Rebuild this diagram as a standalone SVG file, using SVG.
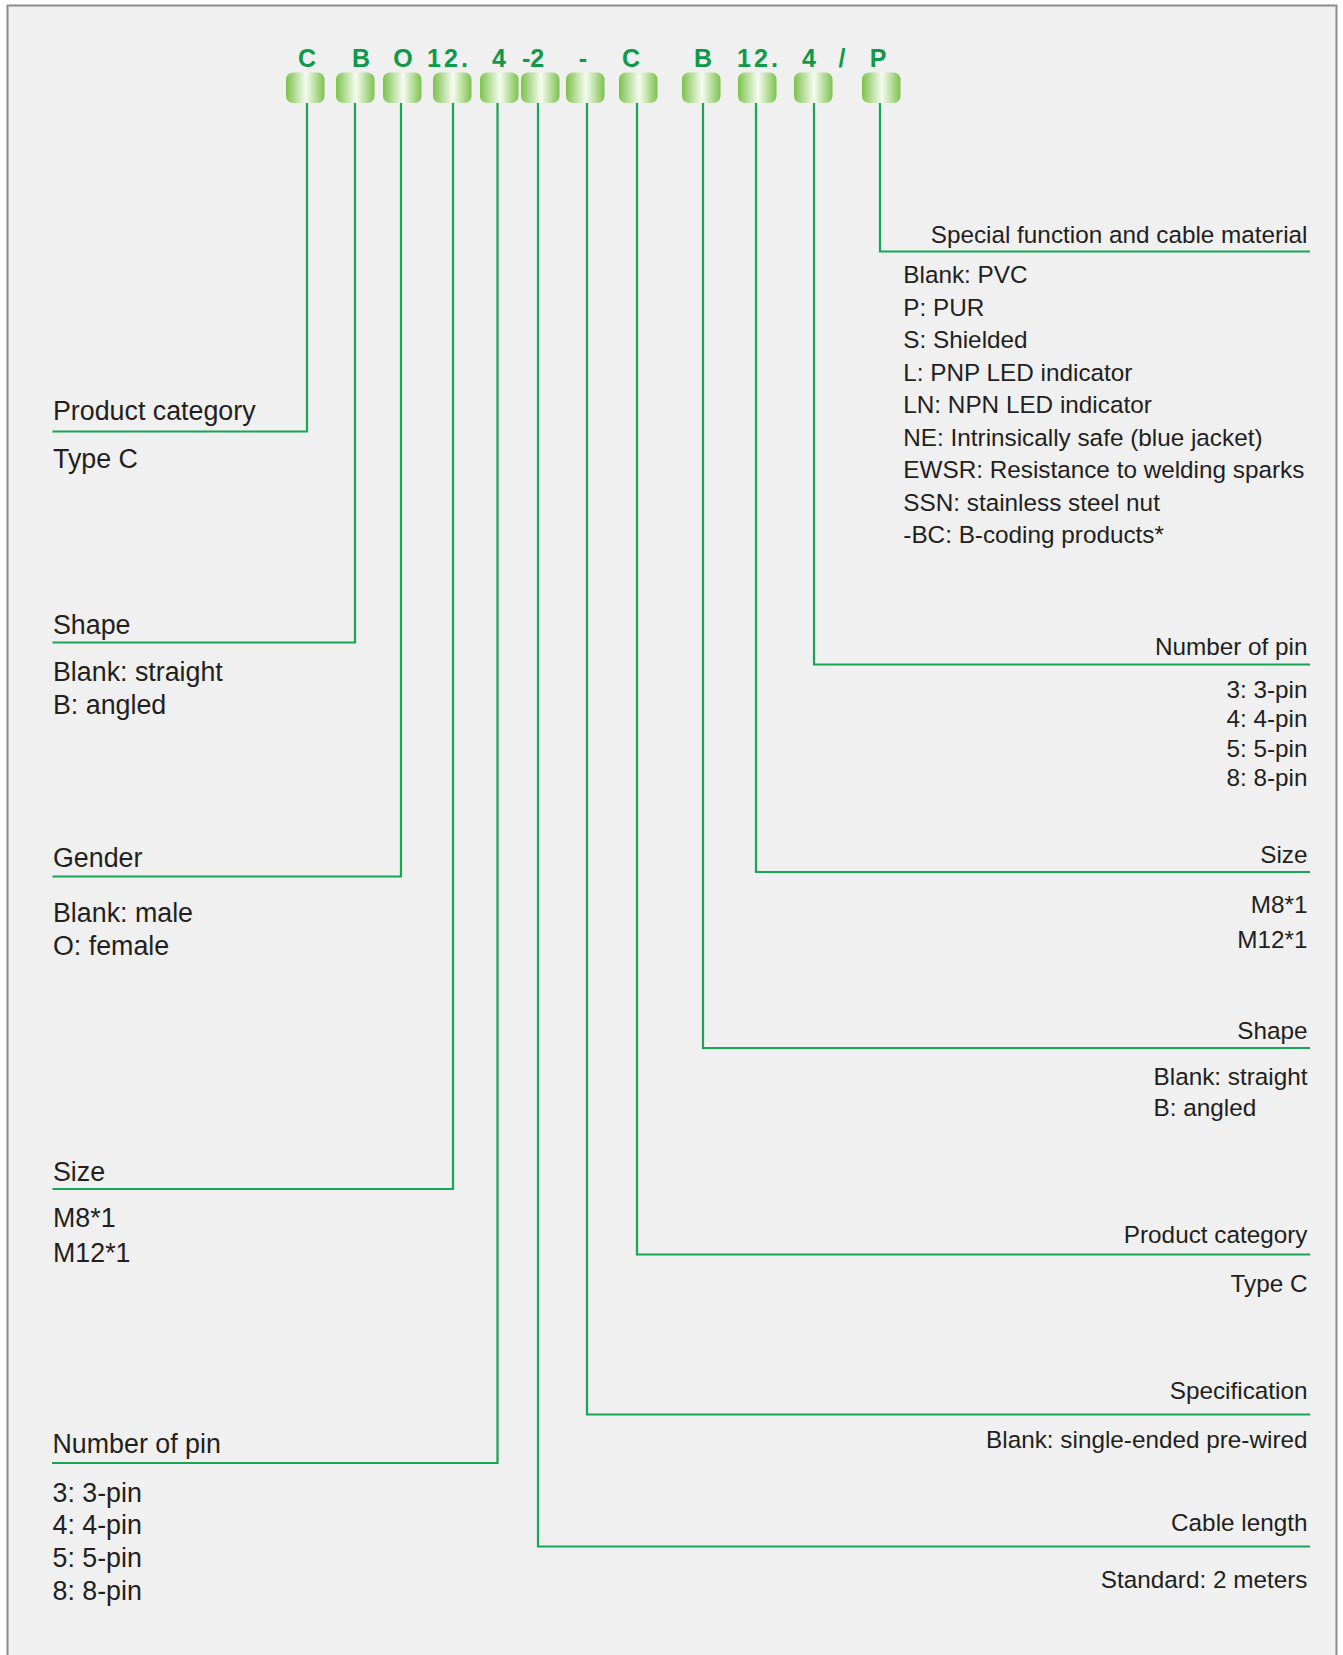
<svg xmlns="http://www.w3.org/2000/svg" width="1343" height="1655" viewBox="0 0 1343 1655">
<style>
.code{font-family:"Liberation Sans",Arial,sans-serif;font-weight:bold;font-size:25px;fill:#0e9a4a;text-anchor:middle}
.pill{fill:url(#pg)}
.lh{font-family:"Liberation Sans",Arial,sans-serif;font-size:26.8px;fill:#231f20}
.rh{font-family:"Liberation Sans",Arial,sans-serif;font-size:24.3px;fill:#231f20}
.r{text-anchor:end}
.conn{fill:none;stroke:#17a556;stroke-width:2.2}
</style>
<defs>
<linearGradient id="pg" x1="0" y1="0" x2="1" y2="0">
<stop offset="0" stop-color="#7cc24c"/>
<stop offset="0.52" stop-color="#f6fbf2"/>
<stop offset="1" stop-color="#7cc24c"/>
</linearGradient>
</defs>
<rect x="7.5" y="5.5" width="1329" height="1660" fill="#f0f0f0" stroke="#8c8c8c" stroke-width="2"/>

<g id="code-C1"><text class="code" x="307" y="66.5">C</text><rect class="pill" x="286" y="72.5" width="38.5" height="30.5" rx="7"/></g>
<g id="code-B1"><text class="code" x="361" y="66.5">B</text><rect class="pill" x="336" y="72.5" width="38.5" height="30.5" rx="7"/></g>
<g id="code-O"><text class="code" x="403" y="66.5">O</text><rect class="pill" x="383" y="72.5" width="38.5" height="30.5" rx="7"/></g>
<g id="code-12a"><text class="code" x="449" y="66.5" letter-spacing="3">12.</text><rect class="pill" x="433" y="72.5" width="38.5" height="30.5" rx="7"/></g>
<g id="code-4a"><text class="code" x="499" y="66.5">4</text><rect class="pill" x="480" y="72.5" width="38.5" height="30.5" rx="7"/></g>
<g id="code-2"><text class="code" x="533" y="66.5">-2</text><rect class="pill" x="521" y="72.5" width="38.5" height="30.5" rx="7"/></g>
<g id="code-dash"><text class="code" x="583" y="66.5">-</text><rect class="pill" x="566" y="72.5" width="38.5" height="30.5" rx="7"/></g>
<g id="code-C2"><text class="code" x="631" y="66.5">C</text><rect class="pill" x="619" y="72.5" width="38.5" height="30.5" rx="7"/></g>
<g id="code-B2"><text class="code" x="703" y="66.5">B</text><rect class="pill" x="682" y="72.5" width="38.5" height="30.5" rx="7"/></g>
<g id="code-12b"><text class="code" x="759" y="66.5" letter-spacing="3">12.</text><rect class="pill" x="738" y="72.5" width="38.5" height="30.5" rx="7"/></g>
<g id="code-4b"><text class="code" x="809" y="66.5">4</text><rect class="pill" x="794" y="72.5" width="38.5" height="30.5" rx="7"/></g>
<g id="code-slash"><text class="code" x="842" y="66.5">/</text></g>
<g id="code-P"><text class="code" x="878" y="66.5">P</text><rect class="pill" x="862" y="72.5" width="38.5" height="30.5" rx="7"/></g>

<g id="connectors">
<polyline class="conn" points="307,103 307,431.5 52.5,431.5"/>
<polyline class="conn" points="355,103 355,642.5 52.5,642.5"/>
<polyline class="conn" points="401,103 401,876.5 52.5,876.5"/>
<polyline class="conn" points="453,103 453,1189 52.5,1189"/>
<polyline class="conn" points="497.5,103 497.5,1463 52,1463"/>
<polyline class="conn" points="538,103 538,1546.5 1310,1546.5"/>
<polyline class="conn" points="587,103 587,1414.5 1310,1414.5"/>
<polyline class="conn" points="637,103 637,1254.5 1310,1254.5"/>
<polyline class="conn" points="703,103 703,1048 1310,1048"/>
<polyline class="conn" points="756,103 756,872 1310,872"/>
<polyline class="conn" points="814,103 814,664.5 1310,664.5"/>
<polyline class="conn" points="880,103 880,251.5 1310,251.5"/>
</g>

<g id="left-product-category">
<text class="lh" x="53" y="420">Product category</text>
<text class="lh" x="53" y="468">Type C</text>
</g>
<g id="left-shape">
<text class="lh" x="53" y="633.5">Shape</text>
<text class="lh" x="53" y="681">Blank: straight</text>
<text class="lh" x="53" y="714.3">B: angled</text>
</g>
<g id="left-gender">
<text class="lh" x="53" y="866.7">Gender</text>
<text class="lh" x="53" y="921.7">Blank: male</text>
<text class="lh" x="53" y="955">O: female</text>
</g>
<g id="left-size">
<text class="lh" x="53" y="1180.7">Size</text>
<text class="lh" x="53" y="1226.7">M8*1</text>
<text class="lh" x="53" y="1262.3">M12*1</text>
</g>
<g id="left-number-of-pin">
<text class="lh" x="52.5" y="1453.3">Number of pin</text>
<text class="lh" x="52.5" y="1501.7">3: 3-pin</text>
<text class="lh" x="52.5" y="1534.3">4: 4-pin</text>
<text class="lh" x="52.5" y="1566.7">5: 5-pin</text>
<text class="lh" x="52.5" y="1600">8: 8-pin</text>
</g>

<g id="right-special-function">
<text class="rh r" x="1307.5" y="243.3">Special function and cable material</text>
<text class="rh" x="903.3" y="283.3">Blank: PVC</text>
<text class="rh" x="903.3" y="316">P: PUR</text>
<text class="rh" x="903.3" y="348.3">S: Shielded</text>
<text class="rh" x="903.3" y="380.7">L: PNP LED indicator</text>
<text class="rh" x="903.3" y="413.3">LN: NPN LED indicator</text>
<text class="rh" x="903.3" y="446">NE: Intrinsically safe (blue jacket)</text>
<text class="rh" x="903.3" y="478.3">EWSR: Resistance to welding sparks</text>
<text class="rh" x="903.3" y="511">SSN: stainless steel nut</text>
<text class="rh" x="903.3" y="543.3">-BC: B-coding products*</text>
</g>
<g id="right-number-of-pin">
<text class="rh r" x="1307.5" y="655">Number of pin</text>
<text class="rh r" x="1307.5" y="698.3">3: 3-pin</text>
<text class="rh r" x="1307.5" y="727.3">4: 4-pin</text>
<text class="rh r" x="1307.5" y="756.7">5: 5-pin</text>
<text class="rh r" x="1307.5" y="785.7">8: 8-pin</text>
</g>
<g id="right-size">
<text class="rh r" x="1307.5" y="863.3">Size</text>
<text class="rh r" x="1307.5" y="912.7">M8*1</text>
<text class="rh r" x="1307.5" y="948.3">M12*1</text>
</g>
<g id="right-shape">
<text class="rh r" x="1307.5" y="1039.3">Shape</text>
<text class="rh r" x="1307.5" y="1085">Blank: straight</text>
<text class="rh" x="1153.5" y="1115.5">B: angled</text>
</g>
<g id="right-product-category">
<text class="rh r" x="1307.5" y="1242.7">Product category</text>
<text class="rh r" x="1307.5" y="1291.7">Type C</text>
</g>
<g id="right-specification">
<text class="rh r" x="1307.5" y="1399.3">Specification</text>
<text class="rh r" x="1307.5" y="1448.3">Blank: single-ended pre-wired</text>
</g>
<g id="right-cable-length">
<text class="rh r" x="1307.5" y="1531">Cable length</text>
<text class="rh r" x="1307.5" y="1587.7">Standard: 2 meters</text>
</g>
</svg>
